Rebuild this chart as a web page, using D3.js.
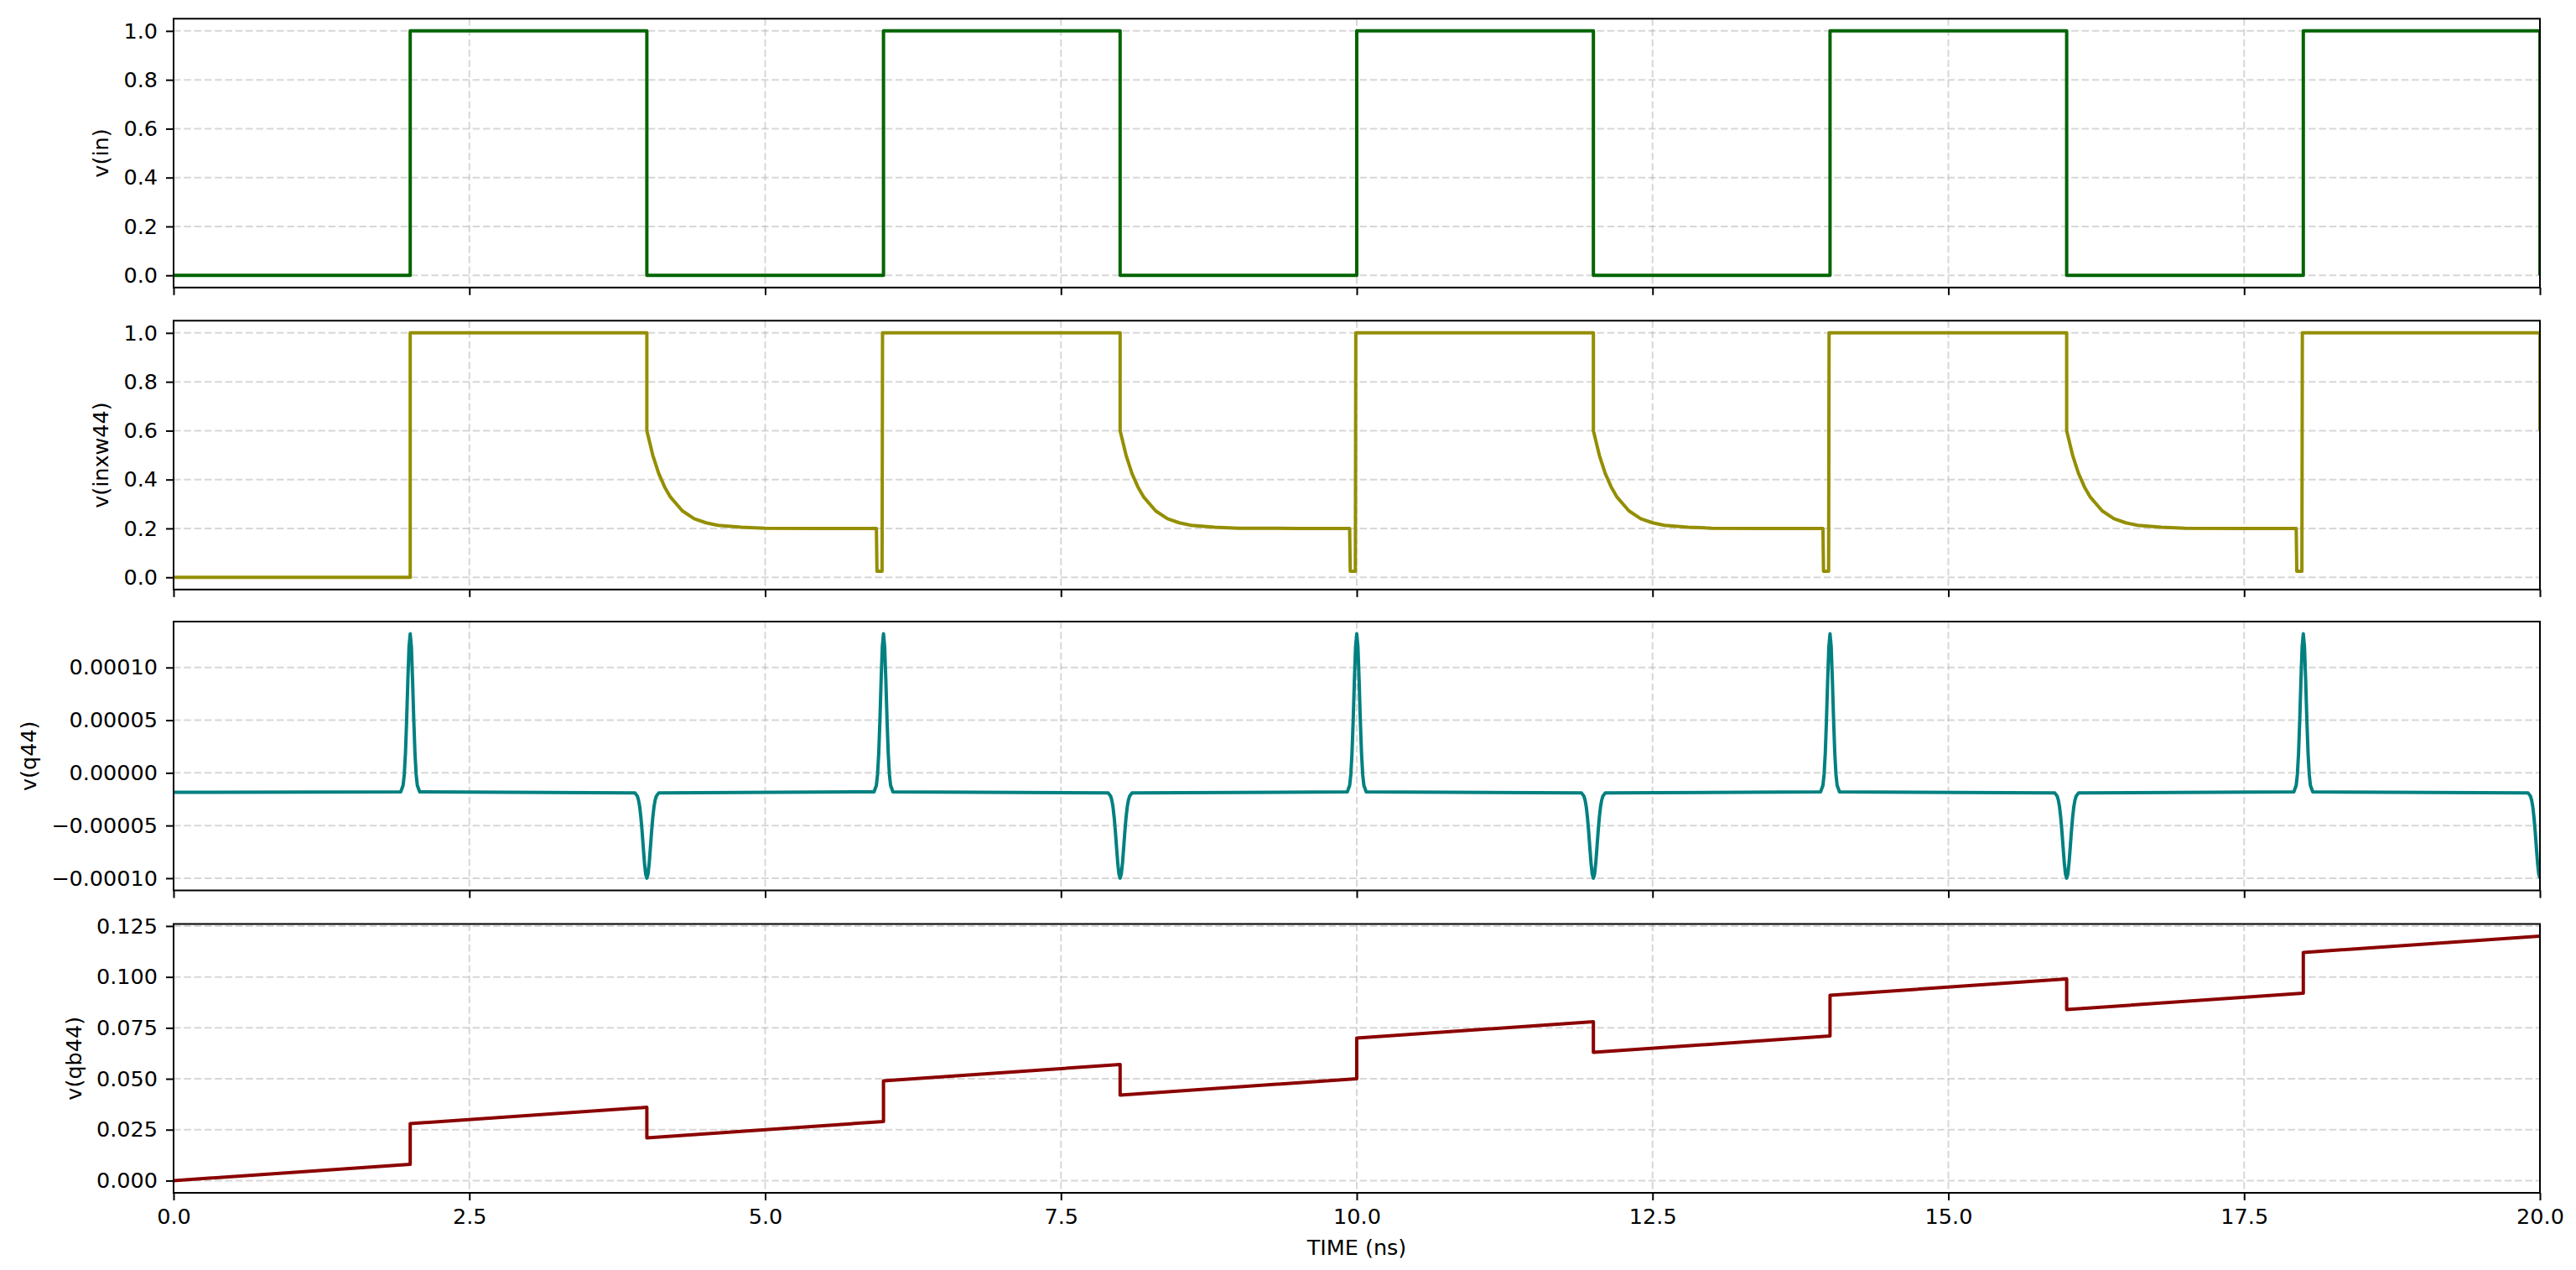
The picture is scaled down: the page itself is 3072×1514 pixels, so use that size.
<!DOCTYPE html>
<meta charset="utf-8">
<script src="https://d3js.org/d3.v7.min.js"></script>
<style>
body { margin: 0; background: #fff; }
text { font-family: "DejaVu Sans", sans-serif; }
</style>
<body>
<svg width="3072" height="1514"></svg>
<script>
  // ---------- data (time in ns) ----------
  var timeTicks = [0, 2.5, 5, 7.5, 10, 12.5, 15, 17.5, 20];
  var timeLabels = ['0.0', '2.5', '5.0', '7.5', '10.0', '12.5', '15.0', '17.5', '20.0'];

  var riseTimes = [2, 6, 10, 14, 18];
  var fallTimes = [4, 8, 12, 16, 20];

  // v(in): square wave
  var vinT = [0, 2, 2, 4, 4, 6, 6, 8, 8, 10, 10, 12, 12, 14, 14, 16, 16, 18, 18, 20, 20];
  var vinV = [0, 0, 1, 1, 0, 0, 1, 1, 0, 0, 1, 1, 0, 0, 1, 1, 0, 0, 1, 1, 0];

  // v(inxw44): glitch just before each rise, step + settling after each fall
  var inxwDipDt = [-0.06, -0.055, -0.012, -0.008];
  var inxwDipV  = [0.2, 0.025, 0.025, 1.0];
  var inxwDecayDt = [0, 0.05, 0.1, 0.15, 0.2, 0.3, 0.4, 0.5, 0.6, 0.8, 1.0, 1.5];
  var inxwDecayV  = [0.6, 0.5, 0.425, 0.37, 0.328, 0.272, 0.24, 0.223, 0.213, 0.205, 0.201, 0.200];

  // v(q44): flat baseline, spike at rising edges, dip at falling edges
  var q44Base = -1.85e-5;
  var q44SpikeDt = [-0.08, -0.06, -0.05, -0.04, -0.03, -0.02, -0.01, 0, 0.01, 0.02, 0.03, 0.04, 0.05, 0.06, 0.08];
  var q44SpikeV  = [-1.8e-5, -1.19e-5, -1.3e-6, 1.91e-5, 5.04e-5, 8.79e-5, 1.195e-4, 1.32e-4,
                    1.195e-4, 8.79e-5, 5.04e-5, 1.91e-5, -1.3e-6, -1.19e-5, -1.8e-5];
  var q44DipDt = [-0.1, -0.08, -0.07, -0.06, -0.05, -0.04, -0.03, -0.02, -0.01, 0,
                  0.01, 0.02, 0.03, 0.04, 0.05, 0.06, 0.07, 0.08, 0.1];
  var q44DipV  = [-1.91e-5, -2.21e-5, -2.6e-5, -3.25e-5, -4.25e-5, -5.58e-5, -7.1e-5, -8.56e-5, -9.61e-5, -1.0e-4,
                  -9.61e-5, -8.56e-5, -7.1e-5, -5.58e-5, -4.25e-5, -3.25e-5, -2.6e-5, -2.21e-5, -1.91e-5];

  // v(qb44): slow ramp with steps at each edge
  var qbT = [0, 2, 2, 4, 4, 6, 6, 8, 8, 10, 10, 12, 12, 14, 14, 16, 16, 18, 18, 20];
  var qbV = [0.000, 0.008, 0.028, 0.036, 0.021, 0.029, 0.049, 0.057, 0.042, 0.050,
             0.070, 0.078, 0.063, 0.071, 0.091, 0.099, 0.084, 0.092, 0.112, 0.120];

  // y ticks
  var unitTicks = [0, 0.2, 0.4, 0.6, 0.8, 1.0];
  var unitLabels = ['0.0', '0.2', '0.4', '0.6', '0.8', '1.0'];
  var q44Ticks = [-1e-4, -5e-5, 0, 5e-5, 1e-4];
  var q44Labels = ['\u22120.00010', '\u22120.00005', '0.00000', '0.00005', '0.00010'];
  var qbTicks = [0, 0.025, 0.05, 0.075, 0.1, 0.125];
  var qbLabels = ['0.000', '0.025', '0.050', '0.075', '0.100', '0.125'];

  // ---------- build point lists ----------
  var vinPts = vinT.map(function(t, i){ return [t, vinV[i]]; });

  var inxwPts = [[0, 0]];
  riseTimes.forEach(function(r, k){
    if (k === 0) { inxwPts.push([r, 0], [r, 1]); }
    else inxwDipDt.forEach(function(dt, j){ inxwPts.push([r + dt, inxwDipV[j]]); });
    var f = fallTimes[k];
    inxwPts.push([f, 1]);
    inxwDecayDt.forEach(function(dt, j){ if (f + dt <= 20) inxwPts.push([f + dt, inxwDecayV[j]]); });
  });

  var q44Pts = [[0, q44Base]];
  riseTimes.forEach(function(r, k){
    q44SpikeDt.forEach(function(dt, j){ q44Pts.push([r + dt, q44SpikeV[j]]); });
    var f = fallTimes[k];
    q44DipDt.forEach(function(dt, j){ if (f + dt <= 20) q44Pts.push([f + dt, q44DipV[j]]); });
  });

  var qbPts = qbT.map(function(t, i){ return [t, qbV[i]]; });

  var panels = [
    {label: 'v(in)',     color: '#006400', pts: vinPts,  ticks: unitTicks, labels: unitLabels},
    {label: 'v(inxw44)', color: '#948e00', pts: inxwPts, ticks: unitTicks, labels: unitLabels},
    {label: 'v(q44)',    color: '#008080', pts: q44Pts,  ticks: q44Ticks,  labels: q44Labels},
    {label: 'v(qb44)',   color: '#8b0000', pts: qbPts,   ticks: qbTicks,   labels: qbLabels}
  ];

  // ---------- layout ----------
  var svg = d3.select('svg');
  var left = 207, right = 3029;
  var panelTops = [22.3, 382.3, 741, 1101.5], panelH = 320.5;
  var fontSize = 25.5;

  var x = d3.scaleLinear().domain([0, 20]).range([left, right]);

  function padded(vals){
    var e = d3.extent(vals), p = (e[1] - e[0]) * 0.05;
    return [e[0] - p, e[1] + p];
  }

  panels.forEach(function(p, i){
    var top = panelTops[i], bottom = top + panelH;
    var y = d3.scaleLinear().domain(padded(p.pts.map(function(d){ return d[1]; }))).range([bottom, top]);
    var g = svg.append('g');

    /* ----------- grid ----------- */
    g.selectAll('line.hgrid').data(p.ticks).enter().append('line')
      .attr('class', 'hgrid')
      .attr('x1', left).attr('x2', right)
      .attr('y1', y).attr('y2', y);
    g.selectAll('line.vgrid').data(timeTicks).enter().append('line')
      .attr('class', 'vgrid')
      .attr('x1', x).attr('x2', x)
      .attr('y1', top).attr('y2', bottom);
    g.selectAll('line.hgrid, line.vgrid')
      .attr('stroke', '#b0b0b0')
      .attr('stroke-opacity', 0.5)
      .attr('stroke-width', 2)
      .attr('stroke-dasharray', '8.5,3.8');

    /* ----------- trace ----------- */
    svg.append('clipPath').attr('id', 'clip' + i)
      .append('rect').attr('x', left).attr('y', top).attr('width', right - left).attr('height', panelH);

    g.append('path')
      .datum(p.pts)
      .attr('clip-path', 'url(#clip' + i + ')')
      .attr('fill', 'none')
      .attr('stroke', p.color)
      .attr('stroke-width', 4)
      .attr('stroke-linejoin', 'round')
      .attr('d', d3.line().x(function(d){ return x(d[0]); }).y(function(d){ return y(d[1]); }));

    /* ----------- frame ----------- */
    g.append('rect')
      .attr('x', left).attr('y', top).attr('width', right - left).attr('height', panelH)
      .attr('fill', 'none').attr('stroke', '#000').attr('stroke-width', 2);

    /* ----------- axes ----------- */
    var yAxis = g.append('g')
      .attr('transform', 'translate(' + left + ',0)')
      .call(d3.axisLeft(y).tickValues(p.ticks)
        .tickFormat(function(d, j){ return p.labels[j]; })
        .tickSize(9).tickPadding(10));

    var xAxis = g.append('g')
      .attr('transform', 'translate(0,' + bottom + ')')
      .call(d3.axisBottom(x).tickValues(timeTicks)
        .tickFormat(function(d, j){ return i === panels.length - 1 ? timeLabels[j] : ''; })
        .tickSize(9).tickPadding(10));

    [yAxis, xAxis].forEach(function(a){
      a.attr('font-family', null).attr('font-size', null);
      a.select('.domain').remove();
      a.selectAll('.tick line').attr('stroke', '#000').attr('stroke-width', 2);
      a.selectAll('.tick text').attr('fill', '#000').style('font-size', fontSize + 'px');
    });

    /* ----------- y label ----------- */
    var tickLeft = left + yAxis.node().getBBox().x;
    g.append('text')
      .attr('transform', 'translate(' + (tickLeft - 18) + ',' + (top + panelH / 2) + ') rotate(-90)')
      .attr('text-anchor', 'middle')
      .style('font-size', fontSize + 'px')
      .text(p.label);
  });

  svg.append('text')
    .attr('x', (left + right) / 2)
    .attr('y', 1496)
    .attr('text-anchor', 'middle')
    .style('font-size', fontSize + 'px')
    .text('TIME (ns)');
</script>
</body>
